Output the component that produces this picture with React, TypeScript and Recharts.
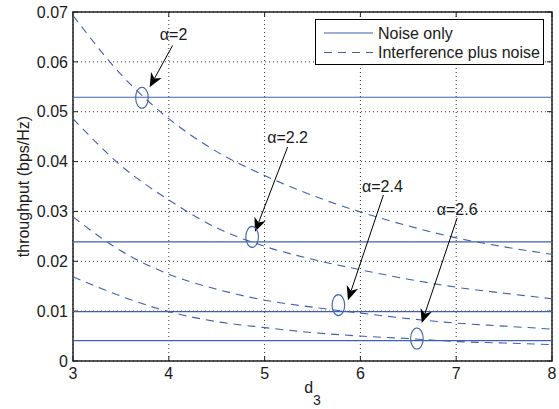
import React from "react";
import {
  LineChart,
  Line,
  XAxis,
  YAxis,
  CartesianGrid,
  ReferenceLine,
  ReferenceDot,
  ReferenceArea,
  Legend,
} from "recharts";

// ─── data ────────────────────────────────────────────────────────────────────

const d3Values = [3, 3.5, 4, 4.5, 5, 5.5, 6, 6.5, 7, 7.5, 8];
const alpha20 = [0.0693, 0.0575, 0.0486, 0.042, 0.0372, 0.0332, 0.0299, 0.0271, 0.0247, 0.0229, 0.0214];
const alpha22 = [0.0486, 0.0392, 0.0323, 0.0267, 0.023, 0.0204, 0.0183, 0.0164, 0.0148, 0.0136, 0.0125];
const alpha24 = [0.0289, 0.0221, 0.0174, 0.0144, 0.0122, 0.0108, 0.0096, 0.0085, 0.0076, 0.007, 0.0064];
const alpha26 = [0.0169, 0.013, 0.0099, 0.0079, 0.0067, 0.0057, 0.005, 0.0045, 0.0039, 0.0036, 0.0033];

// "Noise only" levels (one per alpha)
const noiseOnly = [0.0529, 0.0239, 0.0099, 0.0041];

const xTicks = [3, 4, 5, 6, 7, 8];
const yTicks = [0, 0.01, 0.02, 0.03, 0.04, 0.05, 0.06, 0.07];

// annotations: label, label position, arrow tail, arrow tip, circled point
const alphaLabels = ["α=2", "α=2.2", "α=2.4", "α=2.6"];
const labelAt = [
  [4.05, 0.0656],
  [5.24, 0.0448],
  [6.23, 0.0351],
  [7.01, 0.0304],
];
const arrowFrom = [
  [4.04, 0.0633],
  [5.24, 0.0429],
  [6.24, 0.0333],
  [7.01, 0.0287],
];
const arrowTo = [
  [3.8, 0.0549],
  [4.9, 0.0259],
  [5.87, 0.0122],
  [6.64, 0.0076],
];
const circledAt = [
  [3.72, 0.0528],
  [4.87, 0.0249],
  [5.77, 0.0112],
  [6.59, 0.0045],
];

const BLUE = "#3f5fb0";
const FONT = "'Liberation Sans', Arial, Helvetica, sans-serif";
const TEXT = "#1a1a1a";

// ─── small svg pieces ────────────────────────────────────────────────────────

function Arrow(props: any) {
  const { x1, y1, x2, y2 } = props;
  const a = Math.atan2(y2 - y1, x2 - x1);
  const c = Math.cos(a);
  const s = Math.sin(a);
  const L = 14;
  const W = 6;
  const N = 10;
  const nx = x2 - N * c;
  const ny = y2 - N * s;
  const pts = [
    [x2, y2],
    [x2 - L * c + W * s, y2 - L * s - W * c],
    [nx, ny],
    [x2 - L * c - W * s, y2 - L * s + W * c],
  ]
    .map((p) => p.join(","))
    .join(" ");
  return (
    <g>
      <line x1={x1} y1={y1} x2={nx} y2={ny} stroke="#000" strokeWidth={1} />
      <polygon points={pts} fill="#000" />
    </g>
  );
}

// short inward tick at both ends of a segment
function InTicks(props: any) {
  const { x1, y1, x2, y2 } = props;
  const len = Math.hypot(x2 - x1, y2 - y1) || 1;
  const ux = ((x2 - x1) / len) * 5;
  const uy = ((y2 - y1) / len) * 5;
  return (
    <g stroke="#222" strokeWidth={1}>
      <line x1={x1} y1={y1} x2={x1 + ux} y2={y1 + uy} />
      <line x1={x2} y1={y2} x2={x2 - ux} y2={y2 - uy} />
    </g>
  );
}

function LegendBox() {
  return (
    <svg width={230} height={47} style={{ display: "block" }}>
      <rect x={0.5} y={0.5} width={228} height={45} fill="#fff" stroke="#000" strokeWidth={1} />
      <line x1={9} x2={58} y1={14} y2={14} stroke={BLUE} strokeWidth={1.2} />
      <text x={63} y={14} dy="0.36em" fontSize={16} fontFamily={FONT} fill={TEXT}>
        Noise only
      </text>
      <line x1={9} x2={58} y1={33.5} y2={33.5} stroke={BLUE} strokeWidth={1.2} strokeDasharray="8 6" />
      <text x={63} y={33.5} dy="0.36em" fontSize={16} fontFamily={FONT} fill={TEXT}>
        Interference plus noise
      </text>
    </svg>
  );
}

// ─── chart ───────────────────────────────────────────────────────────────────

export default function App() {
  const data = d3Values.map((d, i) => ({
    d3: d,
    a20: alpha20[i],
    a22: alpha22[i],
    a24: alpha24[i],
    a26: alpha26[i],
  }));
  const tickStyle = { fontSize: 16, fill: TEXT, fontFamily: FONT };

  return (
    <div
      style={{
        position: "absolute",
        left: 0,
        top: 0,
        width: 559,
        height: 409,
        background: "#fff",
        fontFamily: FONT,
      }}
    >
      <LineChart width={559} height={409} data={data} margin={{ top: 12, right: 7, bottom: 0, left: 0 }}>
        <CartesianGrid stroke="#333" strokeDasharray="1 3" />
        <XAxis
          dataKey="d3"
          type="number"
          domain={[3, 8]}
          ticks={xTicks}
          allowDataOverflow
          height={48}
          tickSize={0}
          tickMargin={7}
          axisLine={false}
          tickLine={false}
          tick={tickStyle}
          label={(p: any) => {
            const vb = p.viewBox;
            return (
              <text
                x={vb.x + vb.width / 2}
                y={vb.y + 32}
                textAnchor="middle"
                fontSize={16}
                fontFamily={FONT}
                fill={TEXT}
              >
                d
                <tspan fontSize={14} dy={12}>
                  3
                </tspan>
              </text>
            );
          }}
        />
        <YAxis
          type="number"
          domain={[0, 0.07]}
          ticks={yTicks}
          allowDataOverflow
          width={73}
          tickSize={0}
          tickMargin={5}
          axisLine={false}
          tickLine={false}
          tick={tickStyle}
          label={(p: any) => {
            const vb = p.viewBox;
            const cx = vb.x + 29;
            const cy = vb.y + vb.height / 2;
            return (
              <text
                x={cx}
                y={cy}
                transform={`rotate(-90 ${cx} ${cy})`}
                textAnchor="middle"
                fontSize={16}
                fontFamily={FONT}
                fill={TEXT}
              >
                throughput (bps/Hz)
              </text>
            );
          }}
        />

        {xTicks.map((t) => (
          <ReferenceLine
            key={`xt${t}`}
            segment={[
              { x: t, y: 0 },
              { x: t, y: 0.07 },
            ]}
            shape={InTicks}
          />
        ))}
        {yTicks.map((t) => (
          <ReferenceLine
            key={`yt${t}`}
            segment={[
              { x: 3, y: t },
              { x: 8, y: t },
            ]}
            shape={InTicks}
          />
        ))}

        {noiseOnly.map((v) => (
          <ReferenceLine key={`n${v}`} y={v} stroke={BLUE} strokeWidth={1.2} />
        ))}

        {["a20", "a22", "a24", "a26"].map((k) => (
          <Line
            key={k}
            dataKey={k}
            type="monotone"
            stroke={BLUE}
            strokeWidth={1.1}
            strokeDasharray="8 6"
            dot={false}
            activeDot={false}
            isAnimationActive={false}
          />
        ))}

        {circledAt.map(([x, y], i) => (
          <ReferenceDot
            key={`c${i}`}
            x={x}
            y={y}
            r={6}
            shape={(p: any) => (
              <ellipse cx={p.cx} cy={p.cy} rx={6.3} ry={10.5} fill="none" stroke={BLUE} strokeWidth={1.1} />
            )}
          />
        ))}
        {arrowFrom.map((f, i) => (
          <ReferenceLine
            key={`a${i}`}
            segment={[
              { x: f[0], y: f[1] },
              { x: arrowTo[i][0], y: arrowTo[i][1] },
            ]}
            shape={Arrow}
          />
        ))}
        {labelAt.map(([x, y], i) => (
          <ReferenceDot
            key={`l${i}`}
            x={x}
            y={y}
            r={1}
            shape={(p: any) => (
              <text
                x={p.cx}
                y={p.cy}
                dy="0.36em"
                textAnchor="middle"
                fontSize={16}
                fontFamily={FONT}
                fill={TEXT}
              >
                {alphaLabels[i]}
              </text>
            )}
          />
        ))}

        <ReferenceArea x1={3} x2={8} y1={0} y2={0.07} fill="none" stroke="#222" strokeWidth={1.5} />

        <Legend
          verticalAlign="middle"
          align="center"
          layout="horizontal"
          content={() => <LegendBox />}
          wrapperStyle={{ left: 315, top: 19, width: 230, height: 47 }}
        />
      </LineChart>
    </div>
  );
}
